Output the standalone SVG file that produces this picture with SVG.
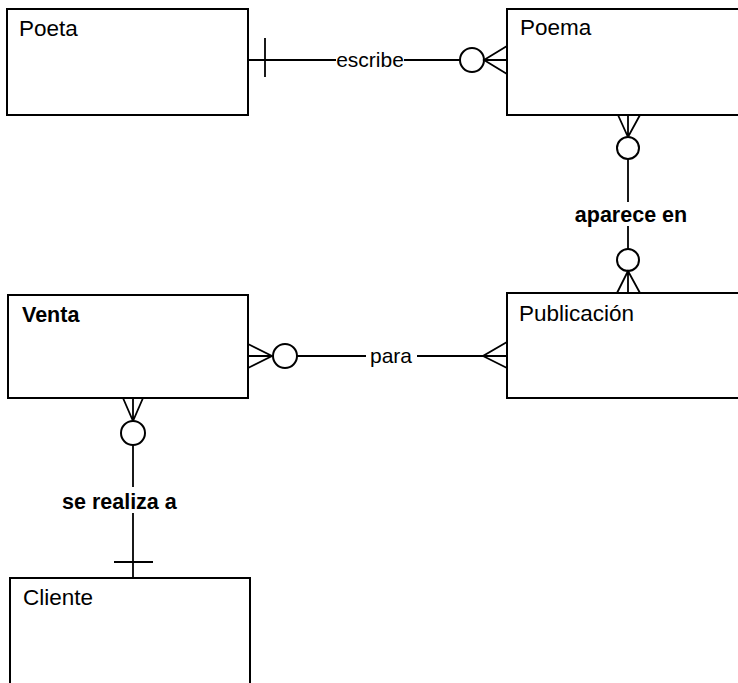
<svg xmlns="http://www.w3.org/2000/svg" width="738" height="683" viewBox="0 0 738 683">
<style>
.box{fill:#fff;stroke:#000;stroke-width:2}
.ln{fill:none;stroke:#000;stroke-width:1.8}
.circ{fill:#fff;stroke:#000;stroke-width:2}
.name{font-family:"Liberation Sans",Arial,sans-serif;font-size:22.5px;fill:#000}
.lbl{font-family:"Liberation Sans",Arial,sans-serif;font-size:21px;fill:#000}
.blbl{font-family:"Liberation Sans",Arial,sans-serif;font-size:21.5px;font-weight:bold;fill:#000}
</style>
<rect width="738" height="683" fill="#fff"/>
<g id="connectors">
  <g id="escribe">
    <line class="ln" x1="248" y1="60" x2="336" y2="60"/>
    <line class="ln" x1="404" y1="60" x2="460" y2="60"/>
    <line class="ln" x1="265" y1="38" x2="265" y2="77"/>
    <circle class="circ" cx="472" cy="60" r="12"/>
    <path class="ln" d="M507,46 L484,60 L507,74 M484,60 L507,60"/>
    <text class="lbl" x="370" y="67" text-anchor="middle">escribe</text>
  </g>
  <g id="aparece">
    <path class="ln" d="M618,115 L628,137 L640,115 M628,115 L628,137"/>
    <circle class="circ" cx="628" cy="148" r="11"/>
    <line class="ln" x1="628" y1="159" x2="628" y2="202"/>
    <text class="blbl" x="631" y="222" text-anchor="middle">aparece en</text>
    <line class="ln" x1="628" y1="226" x2="628" y2="249"/>
    <circle class="circ" cx="628" cy="260" r="11"/>
    <path class="ln" d="M617,293 L628,271 L640,293 M628,271 L628,293"/>
  </g>
  <g id="para">
    <path class="ln" d="M248,344 L272,356 L248,368 M248,356 L272,356"/>
    <circle class="circ" cx="285" cy="356" r="12"/>
    <line class="ln" x1="297" y1="356" x2="366" y2="356"/>
    <text class="lbl" x="391" y="363" text-anchor="middle">para</text>
    <line class="ln" x1="417" y1="356" x2="483" y2="356"/>
    <path class="ln" d="M507,342 L483,356 L507,368 M483,356 L507,356"/>
  </g>
  <g id="serealiza">
    <path class="ln" d="M123,398 L133,421 L143,398 M133,398 L133,421"/>
    <circle class="circ" cx="133" cy="433" r="12"/>
    <line class="ln" x1="133" y1="445" x2="133" y2="487"/>
    <text class="blbl" x="62" y="509">se realiza a</text>
    <line class="ln" x1="133" y1="513" x2="133" y2="578"/>
    <line class="ln" x1="114" y1="562" x2="153" y2="562"/>
  </g>
</g>
<g id="Poeta">
  <rect class="box" x="7" y="9" width="241" height="106"/>
  <text class="name" x="19" y="36">Poeta</text>
</g>
<g id="Poema">
  <rect class="box" x="507" y="9" width="250" height="106"/>
  <text class="name" x="520" y="35">Poema</text>
</g>
<g id="Publicacion">
  <rect class="box" x="507" y="293" width="250" height="105"/>
  <text class="name" x="519" y="321">Publicación</text>
</g>
<g id="Venta">
  <rect class="box" x="8" y="295" width="240" height="103"/>
  <text class="blbl" x="22" y="322">Venta</text>
</g>
<g id="Cliente">
  <rect class="box" x="10" y="578" width="240" height="120"/>
  <text class="name" x="23" y="605">Cliente</text>
</g>
</svg>
